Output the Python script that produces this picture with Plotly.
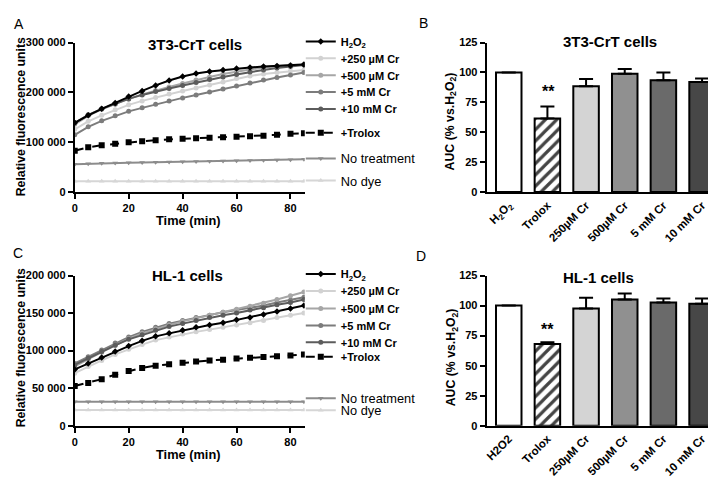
import plotly.graph_objects as go

W, H = 716, 478
FONT = "Liberation Sans, Arial, sans-serif"

# ---------------- data ----------------
time_min = [0, 5, 10, 15, 20, 25, 30, 35, 40, 45, 50, 55, 60, 65, 70, 75, 80, 85]

# Panel A: 3T3-CrT cells (relative fluorescence units)
a_h2o2 = [139000, 154000, 167000, 179000, 192000, 203000, 214000, 224000, 232000, 238000, 242000, 245000, 248000, 250000, 252000, 253000, 254000, 256000]
a_cr250 = [126000, 142000, 154000, 165000, 175000, 183000, 190000, 197000, 203000, 209000, 215000, 221000, 228000, 233000, 237000, 240000, 243000, 245000]
a_cr500 = [136000, 153000, 166000, 177000, 187000, 196000, 204000, 211000, 218000, 225000, 231000, 237000, 242000, 246000, 250000, 253000, 255000, 256000]
a_cr5mm = [115000, 131000, 143000, 153000, 162000, 169000, 176000, 183000, 189000, 195000, 201000, 207000, 213000, 219000, 225000, 230000, 235000, 240000]
a_cr10mm = [139000, 155000, 167000, 177000, 187000, 195000, 202000, 208000, 214000, 220000, 226000, 231000, 236000, 241000, 245000, 249000, 252000, 255000]
a_trolox = [83000, 90000, 94000, 97000, 100000, 102000, 104000, 106000, 107000, 108000, 109000, 110000, 111000, 112000, 113000, 115000, 117000, 118000]
a_notreat = [56000, 57000, 58000, 58500, 59000, 59500, 60000, 60500, 61000, 61500, 62000, 62500, 63000, 63500, 64000, 64500, 65000, 66000]
a_nodye = [22000, 22000, 22000, 22000, 22000, 22000, 22000, 22000, 22000, 22000, 22000, 22000, 22000, 22000, 22000, 22000, 22000, 22000]

# Panel C: HL-1 cells
c_h2o2 = [75000, 83000, 91000, 99000, 106000, 113000, 119000, 123000, 127000, 131000, 134000, 137000, 141000, 144000, 148000, 152000, 156000, 160000]
c_cr250 = [70000, 79000, 87000, 95000, 102000, 108000, 114000, 118000, 122000, 125000, 128000, 131000, 134000, 137000, 140000, 144000, 147000, 150000]
c_cr500 = [79000, 89000, 98000, 107000, 116000, 123000, 129000, 134000, 139000, 143000, 147000, 151000, 155000, 159000, 163000, 168000, 173000, 178000]
c_cr5mm = [83000, 92000, 101000, 110000, 118000, 125000, 131000, 136000, 140000, 144000, 147000, 151000, 154000, 157000, 160000, 164000, 167000, 171000]
c_cr10mm = [81000, 90000, 99000, 107000, 115000, 121000, 127000, 132000, 136000, 140000, 144000, 147000, 150000, 154000, 157000, 161000, 164000, 168000]
c_trolox = [53000, 57000, 62000, 68000, 73000, 77000, 80000, 82000, 84000, 85500, 87000, 88000, 89500, 90500, 91500, 92500, 93500, 95000]
c_notreat = [32000, 32000, 32000, 32000, 32000, 32000, 32000, 32000, 32000, 32000, 32000, 32000, 32000, 32000, 32000, 32000, 32000, 32000]
c_nodye = [21000, 21000, 21000, 21000, 21000, 21000, 21000, 21000, 21000, 21000, 21000, 21000, 21000, 21000, 21000, 21000, 21000, 21000]

series_names = ["H<sub>2</sub>O<sub>2</sub>", "+250 µM Cr", "+500 µM Cr", "+5 mM Cr",
                "+10 mM Cr", "+Trolox", "No treatment", "No dye"]

# Panels B / D: AUC (% vs. H2O2)
b_labels = ["H<sub>2</sub>O<sub>2</sub>", "Trolox", "250µM Cr", "500µM Cr", "5 mM Cr", "10 mM Cr"]
b_auc = [100, 61.5, 88.5, 99, 93.5, 92]
b_sem = [0, 10, 6, 4, 6.5, 3]
d_labels = ["H2O2", "Trolox", "250µM Cr", "500µM Cr", "5 mM Cr", "10 mM Cr"]
d_auc = [100, 68, 97.5, 105, 102.5, 101.5]
d_sem = [0, 1.5, 9, 5, 3.5, 4.5]

a_yticks = [0, 100000, 200000, 300000]
a_yticktext = ["0", "100 000", "200 000", "300 000"]
c_yticks = [0, 50000, 100000, 150000, 200000]
c_yticktext = ["0", "50 000", "100 000", "150 000", "200 000"]
time_ticks = [0, 20, 40, 60, 80]
auc_ticks = [0, 25, 50, 75, 100, 125]

# ---------------- styles ----------------
line_styles = [
    dict(color="#000000", symbol="diamond", dash="solid", msize=5),
    dict(color="#d2d2d2", symbol="circle", dash="solid", msize=5),
    dict(color="#a6a6a6", symbol="circle", dash="solid", msize=5),
    dict(color="#7c7c7c", symbol="circle", dash="solid", msize=5),
    dict(color="#5c5c5c", symbol="circle", dash="solid", msize=5),
    dict(color="#000000", symbol="square", dash="dash", msize=6),
    dict(color="#8c8c8c", symbol="triangle-down", dash="solid", msize=5),
    dict(color="#d6d6d6", symbol="triangle-up", dash="solid", msize=5),
]
bar_colors = ["#ffffff", "#ffffff", "#d4d4d4", "#909090", "#6a6a6a", "#474747"]
bar_patterns = ["", "/", "", "", "", ""]


def px(x):
    return x / W


def py(y):
    return 1 - y / H


fig = go.Figure()

# legend centre positions (pixels) for panels A and C
legend_y_a = [28.3, 45.5, 62.8, 80.0, 97.5, 121.7, 148.3, 171.0]
legend_y_c = [266.8, 284.2, 302.0, 319.5, 336.7, 351.7, 394.3, 406.7]

panel_series = [
    ("x", "y", [a_h2o2, a_cr250, a_cr500, a_cr5mm, a_cr10mm, a_trolox, a_notreat, a_nodye], legend_y_a, 0),
    ("x3", "y3", [c_h2o2, c_cr250, c_cr500, c_cr5mm, c_cr10mm, c_trolox, c_notreat, c_nodye], legend_y_c, 8),
]

legend_layouts = {}
draw_order = [7, 6, 5, 1, 3, 2, 4, 0]
for xa, ya, data, ly, offs in panel_series:
    for i in draw_order:
        st = line_styles[i]
        lname = "legend" if (offs + i) == 0 else "legend%d" % (offs + i + 1)
        fig.add_trace(go.Scatter(
            x=time_min, y=data[i], name=series_names[i], xaxis=xa, yaxis=ya,
            mode="lines+markers",
            line=dict(color=st["color"], width=2, dash=st["dash"]),
            marker=dict(color=st["color"], symbol=st["symbol"], size=st["msize"]),
            legend=lname, showlegend=True,
        ))
        big = i >= 6
        legend_layouts[lname] = dict(
            x=px(291), y=py(ly[i]), xanchor="left", yanchor="middle",
            bgcolor="rgba(0,0,0,0)", borderwidth=0,
            font=dict(family=FONT, size=12.8 if big else 11, color="#000000",
                      weight="normal" if big else "bold"),
            title=dict(text=""), tracegroupgap=0,
        )

# bars
for xa, ya, labels, vals, errs in [("x2", "y2", b_labels, b_auc, b_sem),
                                   ("x4", "y4", d_labels, d_auc, d_sem)]:
    fig.add_trace(go.Bar(
        x=labels, y=vals, xaxis=xa, yaxis=ya, width=0.66, showlegend=False,
        marker=dict(color=bar_colors, line=dict(color="#000000", width=2),
                    pattern=dict(shape=bar_patterns, fgcolor="#000000", bgcolor="#ffffff",
                                 fgopacity=1, size=8, solidity=0.4)),
        error_y=dict(type="data", array=errs, arrayminus=[0] * len(errs), symmetric=False,
                     color="#000000", thickness=2, width=7),
    ))

axis_common = dict(showline=True, linecolor="#000000", linewidth=2, ticks="outside",
                   ticklen=5, tickwidth=2, tickcolor="#000000", showgrid=False, zeroline=False,
                   tickfont=dict(family=FONT, size=11, color="#000000", weight="bold"))
bar_x_axis = dict(axis_common)
bar_x_axis.update(ticks="", tickangle=-45, range=[-0.57, 5.49],
                  tickfont=dict(family=FONT, size=11.5, color="#000000", weight="bold"))

dom_x_left = [px(64), px(295)]
dom_x_right = [px(477.7), px(713)]
dom_y_top = [py(182.7), py(29.3)]
dom_y_bot = [py(422.3), py(268.3)]

fig.update_layout(
    width=W, height=H, margin=dict(l=0, r=0, t=0, b=0),
    paper_bgcolor="white", plot_bgcolor="white",
    font=dict(family=FONT, color="#000000"),
    xaxis=dict(domain=dom_x_left, anchor="y", range=[0, 85.3], tickvals=time_ticks, **axis_common),
    yaxis=dict(domain=dom_y_top, anchor="x", range=[0, 300000], tickvals=a_yticks,
               ticktext=a_yticktext, **axis_common),
    xaxis2=dict(domain=dom_x_right, anchor="y2", **bar_x_axis),
    yaxis2=dict(domain=dom_y_top, anchor="x2", range=[0, 125], tickvals=auc_ticks, **axis_common),
    xaxis3=dict(domain=dom_x_left, anchor="y3", range=[0, 85.3], tickvals=time_ticks, **axis_common),
    yaxis3=dict(domain=dom_y_bot, anchor="x3", range=[0, 200000], tickvals=c_yticks,
                ticktext=c_yticktext, **axis_common),
    xaxis4=dict(domain=dom_x_right, anchor="y4", **bar_x_axis),
    yaxis4=dict(domain=dom_y_bot, anchor="x4", range=[0, 125], tickvals=auc_ticks, **axis_common),
)
fig.update_layout(**legend_layouts)

ann = []


def text(x, y, s, size, weight="bold", angle=0):
    ann.append(dict(x=px(x), y=py(y), xref="paper", yref="paper", text=s, showarrow=False,
                    xanchor="center", yanchor="middle", textangle=angle,
                    font=dict(family=FONT, size=size, color="#000000", weight=weight)))


text(8, 10, "A", 14, "normal")
text(414, 9, "B", 14, "normal")
text(7, 245, "C", 14, "normal")
text(412, 248, "D", 14, "normal")
text(184.5, 31, "3T3-CrT cells", 15)
text(602, 28, "3T3-CrT cells", 15)
text(177, 268, "HL-1 cells", 15)
text(590, 270, "HL-1 cells", 15)
text(10, 105, "Relative fluorescence units", 12.3, angle=-90)
text(10, 342, "Relative fluorescence units", 12.3, angle=-90)
text(178, 212, "Time (min)", 12.8)
text(178, 452, "Time (min)", 12.8)
text(442, 110, "AUC (% vs.H<sub>2</sub>O<sub>2</sub>)", 12.3, angle=-90)
text(443, 352, "AUC (% vs.H<sub>2</sub>O<sub>2</sub>)", 12.3, angle=-90)
text(540, 79, "**", 16)
text(538.5, 324, "**", 16)

fig.update_layout(annotations=ann)
fig.write_html("out.html")
